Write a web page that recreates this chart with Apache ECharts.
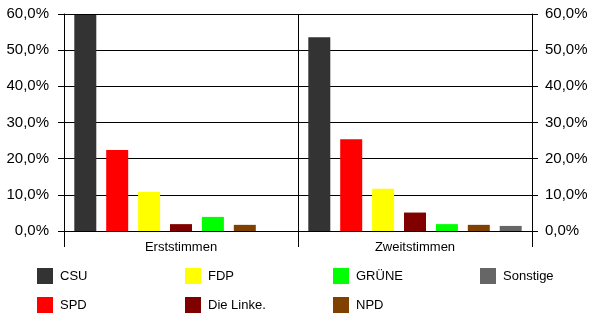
<!DOCTYPE html>
<html>
<head>
<meta charset="utf-8">
<script src="https://cdn.jsdelivr.net/npm/echarts@6/dist/echarts.min.js"></script>
<style>
html,body{margin:0;padding:0;background:#fff;}
#chart{width:600px;height:327px;}
</style>
</head>
<body>
<div id="chart"></div>
<script>
const categories = ['Erststimmen', 'Zweitstimmen'];
const parties = ['CSU', 'SPD', 'FDP', 'Die Linke.', 'GRÜNE', 'NPD', 'Sonstige'];
const colors = ['#333333', '#ff0000', '#ffff00', '#800000', '#00ff00', '#804000', '#666666'];
const csu = [59.7, 53.6];
const spd = [22.4, 25.4];
const fdp = [10.8, 11.7];
const linke = [1.9, 5.1];
const gruene = [3.9, 1.9];
const npd = [1.7, 1.7];
const sonstige = [null, 1.4];
const yTicks = [0, 10, 20, 30, 40, 50, 60];

const values = [csu, spd, fdp, linke, gruene, npd, sonstige];
const FONT = '"Liberation Sans", Arial, sans-serif';

const fmt = v => v.toFixed(1).replace('.', ',') + '%';

const yBase = {
  type: 'value',
  min: yTicks[0],
  max: yTicks[yTicks.length - 1],
  interval: yTicks[1] - yTicks[0],
  axisLine: { show: true, lineStyle: { color: '#000', width: 1 } },
  axisTick: { show: true, length: 6, lineStyle: { color: '#000' } },
  axisLabel: { formatter: fmt, color: '#000', fontSize: 15, fontFamily: FONT }
};

const legendCols = [['CSU', 'SPD'], ['FDP', 'Die Linke.'], ['GRÜNE', 'NPD'], ['Sonstige']];
const legendX = [37, 185, 333, 480];

const chart = echarts.init(document.getElementById('chart'), null, { renderer: 'canvas' });
chart.setOption({
  animation: false,
  backgroundColor: '#fff',
  grid: { left: 64, right: 68, top: 14, bottom: 96, containLabel: false },
  xAxis: {
    type: 'category',
    data: categories,
    axisLine: { show: true, lineStyle: { color: '#000', width: 1 } },
    axisTick: { show: true, length: 16, alignWithLabel: false, lineStyle: { color: '#000' } },
    splitLine: { show: true, lineStyle: { color: '#000', width: 1 } },
    axisLabel: { color: '#000', fontSize: 13, fontFamily: FONT, margin: 10 }
  },
  yAxis: [
    Object.assign({}, yBase, {
      position: 'left',
      splitLine: { show: true, lineStyle: { color: '#000', width: 1 } },
      axisLabel: Object.assign({}, yBase.axisLabel, { margin: 15 })
    }),
    Object.assign({}, yBase, {
      position: 'right',
      splitLine: { show: false },
      axisLabel: Object.assign({}, yBase.axisLabel, { margin: 13 })
    })
  ],
  legend: legendCols.map((col, i) => ({
    orient: 'vertical',
    left: legendX[i],
    top: 268,
    data: col,
    icon: 'rect',
    itemWidth: 16,
    itemHeight: 16,
    itemGap: 13,
    padding: 0,
    selectedMode: false,
    textStyle: { color: '#000', fontSize: 13, fontFamily: FONT, padding: [0, 0, 0, 2] }
  })),
  series: parties.map((p, i) => ({
    name: p,
    type: 'bar',
    yAxisIndex: 0,
    data: values[i],
    barWidth: 22,
    barGap: '45%',
    itemStyle: { color: colors[i] }
  }))
});
</script>
</body>
</html>
